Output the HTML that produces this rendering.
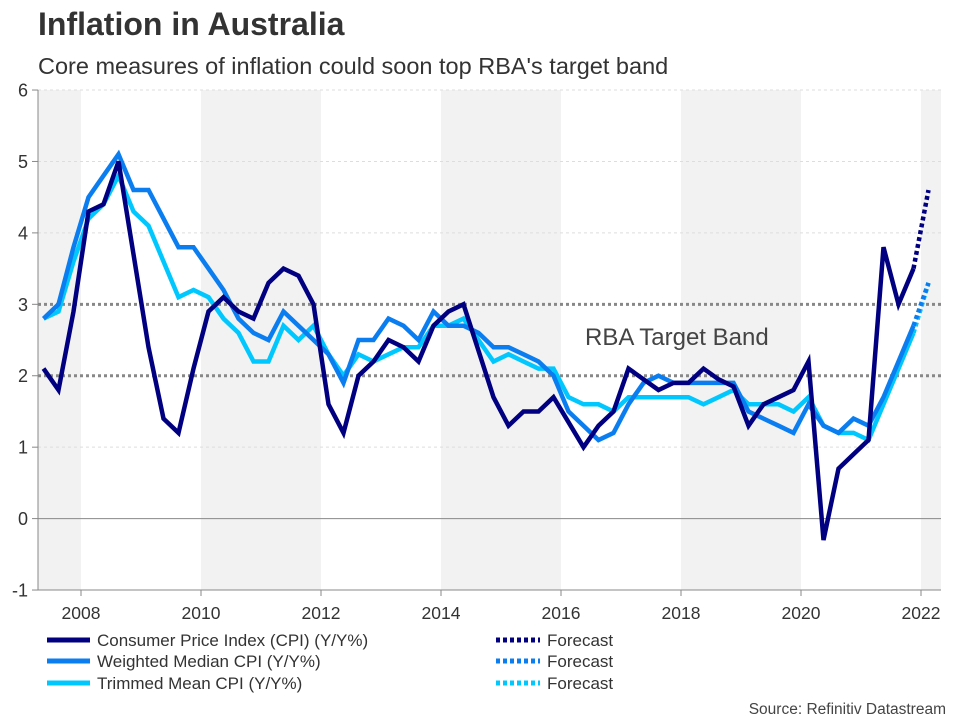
<!DOCTYPE html>
<html><head><meta charset="utf-8">
<style>
html,body{margin:0;padding:0;background:#fff;}
body{width:960px;height:720px;overflow:hidden;font-family:"Liberation Sans",Arial,sans-serif;}
svg text{font-family:"Liberation Sans",Arial,sans-serif;}
</style></head>
<body>
<svg id="chart" width="960" height="720" viewBox="0 0 960 720" xmlns="http://www.w3.org/2000/svg">
<text x="38" y="35" font-size="32" font-weight="bold" fill="#333">Inflation in Australia</text>
<text x="38" y="74" font-size="23.5" fill="#333">Core measures of inflation could soon top RBA's target band</text>
<g id="bands"></g>
<g id="grid"></g>
<g id="series"></g>
<g id="axes"></g>
<text x="585" y="345" font-size="24" fill="#444">RBA Target Band</text>
<g>
<line x1="47" y1="640" x2="90" y2="640" stroke="#000080" stroke-width="5"/>
<text x="97" y="646" font-size="17" fill="#333">Consumer Price Index (CPI) (Y/Y%)</text>
<line x1="47" y1="661" x2="90" y2="661" stroke="#0a7ef0" stroke-width="5"/>
<text x="97" y="667" font-size="17" fill="#333">Weighted Median CPI (Y/Y%)</text>
<line x1="47" y1="683" x2="90" y2="683" stroke="#00c8ff" stroke-width="5"/>
<text x="97" y="689" font-size="17" fill="#333">Trimmed Mean CPI (Y/Y%)</text>
<line x1="496" y1="640" x2="540" y2="640" stroke="#000080" stroke-width="5" stroke-dasharray="4,3"/>
<text x="547" y="646" font-size="17" fill="#333">Forecast</text>
<line x1="496" y1="661" x2="540" y2="661" stroke="#0a7ef0" stroke-width="5" stroke-dasharray="4,3"/>
<text x="547" y="667" font-size="17" fill="#333">Forecast</text>
<line x1="496" y1="683" x2="540" y2="683" stroke="#00c8ff" stroke-width="5" stroke-dasharray="4,3"/>
<text x="547" y="689" font-size="17" fill="#333">Forecast</text>
</g>
<text x="946" y="714" font-size="15.5" fill="#444" text-anchor="end">Source: Refinitiv Datastream</text>
</svg>
<script>
const startYear = 2007.375;
const cpi = [2.1,1.8,2.9,4.3,4.4,5.0,3.7,2.4,1.4,1.2,2.1,2.9,3.1,2.9,2.8,3.3,3.5,3.4,3.0,1.6,1.2,2.0,2.2,2.5,2.4,2.2,2.7,2.9,3.0,2.35,1.7,1.3,1.5,1.5,1.7,1.35,1.0,1.3,1.5,2.1,1.95,1.8,1.9,1.9,2.1,1.95,1.85,1.3,1.6,1.7,1.8,2.2,-0.3,0.7,0.9,1.1,3.8,3.0,3.5];
const weightedMedian = [2.8,3.0,3.8,4.5,4.8,5.1,4.6,4.6,4.2,3.8,3.8,3.5,3.2,2.8,2.6,2.5,2.9,2.7,2.5,2.3,1.9,2.5,2.5,2.8,2.7,2.5,2.9,2.7,2.7,2.6,2.4,2.4,2.3,2.2,2.0,1.5,1.3,1.1,1.2,1.6,1.9,2.0,1.9,1.9,1.9,1.9,1.9,1.5,1.4,1.3,1.2,1.6,1.3,1.2,1.4,1.3,1.7,2.2,2.7];
const trimmedMean = [2.8,2.9,3.6,4.2,4.4,4.8,4.3,4.1,3.6,3.1,3.2,3.1,2.8,2.6,2.2,2.2,2.7,2.5,2.7,2.3,2.0,2.3,2.2,2.3,2.4,2.4,2.7,2.7,2.8,2.5,2.2,2.3,2.2,2.1,2.1,1.7,1.6,1.6,1.5,1.7,1.7,1.7,1.7,1.7,1.6,1.7,1.8,1.6,1.6,1.6,1.5,1.7,1.3,1.2,1.2,1.1,1.6,2.1,2.6];
const forecasts = [4.6, 3.3, 3.3];
const yTicks = [-1,0,1,2,3,4,5,6];
const xTicks = [2008,2010,2012,2014,2016,2018,2020,2022];
const targetBand = [2,3];

const NS = "http://www.w3.org/2000/svg";
const L = 38, R = 941, T = 90, B = 590;
const xs = t => 81 + (t - 2008) * 60;
const ys = v => 518.6 - v * (500 / 7);
function mk(tag, attrs, parent){
  const e = document.createElementNS(NS, tag);
  for (const k in attrs) e.setAttribute(k, attrs[k]);
  document.getElementById(parent).appendChild(e);
  return e;
}
for (let y = 2006; y <= 2022; y += 4) {
  const x1 = Math.max(L, xs(y)), x2 = Math.min(R, xs(y + 2));
  const r = mk('rect', {x:x1, y:T, width:x2-x1, height:B-T, fill:'#f2f2f2'}, 'bands');
  
  
}
yTicks.forEach(v => {
  const y = ys(v);
  if (v === 0) {
    const l = mk('line', {x1:L, x2:R, y1:y, y2:y, stroke:'#888', 'stroke-width':1}, 'grid');
    
    
  } else if (v !== -1) {
    const l = mk('line', {x1:L, x2:R, y1:y, y2:y, stroke:'#ddd', 'stroke-width':1, 'stroke-dasharray':'3,3'}, 'grid');
    
    
  }
  const tk = mk('line', {x1:L-6, x2:L, y1:y, y2:y, stroke:'#888'}, 'axes');
  
  
  const t = mk('text', {x:28, y:y+6.5, 'font-size':18, fill:'#333', 'text-anchor':'end'}, 'axes');
  t.textContent = v;
  
  
});
targetBand.forEach(v => {
  const l = mk('line', {x1:L, x2:R, y1:ys(v), y2:ys(v), stroke:'#888', 'stroke-width':3, 'stroke-dasharray':'3,3'}, 'grid');
  
  
});
const ya = mk('line', {x1:L, x2:L, y1:T, y2:B, stroke:'#888'}, 'axes');


const xa = mk('line', {x1:L, x2:R, y1:B, y2:B, stroke:'#888'}, 'axes');


xTicks.forEach(yr => {
  const x = xs(yr);
  const tk = mk('line', {x1:x, x2:x, y1:B, y2:B+6, stroke:'#888'}, 'axes');
  
  
  const t = mk('text', {x:x, y:619, 'font-size':17.5, fill:'#333', 'text-anchor':'middle'}, 'axes');
  t.textContent = yr;
  
  
});
const series = [
  {data: trimmedMean, color:'#00c8ff', name:'trimmed-mean', fc: forecasts[2]},
  {data: weightedMedian, color:'#0a7ef0', name:'weighted-median', fc: forecasts[1]},
  {data: cpi, color:'#000080', name:'cpi', fc: forecasts[0]}
];
series.forEach(s => {
  const pts = s.data.map((v,i) => xs(startYear + i*0.25).toFixed(1) + ',' + ys(v).toFixed(1));
  const p = mk('polyline', {points: pts.join(' '), fill:'none', stroke:s.color, 'stroke-width':4.5, 'stroke-linejoin':'miter'}, 'series');
  
  
  const n = s.data.length;
  const f = mk('line', {x1:xs(startYear+(n-1)*0.25), y1:ys(s.data[n-1]), x2:xs(startYear+n*0.25), y2:ys(s.fc), stroke:s.color, 'stroke-width':4.5, 'stroke-dasharray':'4,3'}, 'series');
  
  
});
</script>
</body></html>
